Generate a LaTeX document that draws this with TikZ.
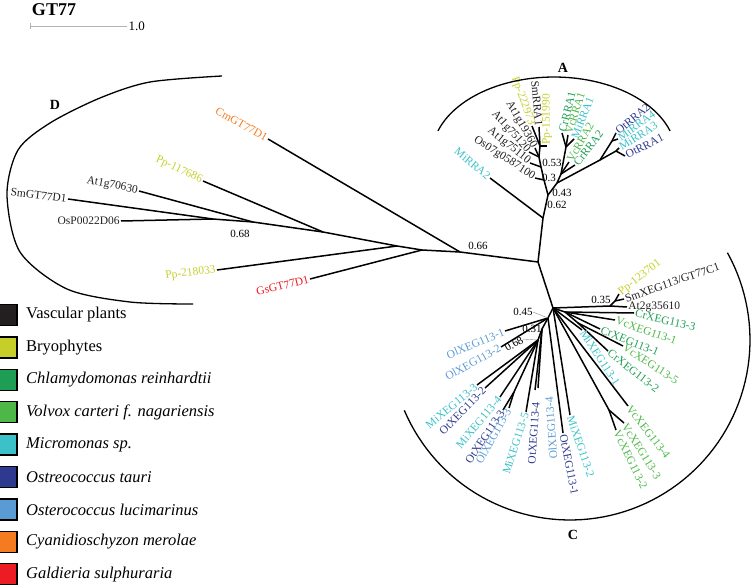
\documentclass[tikz,border=0pt]{standalone}
\usepackage{fontspec}
\setmainfont{Liberation Serif}
\usetikzlibrary{positioning}
\definecolor{cVas}{HTML}{231F20}
\definecolor{cBry}{HTML}{C6CF2A}
\definecolor{cChl}{HTML}{1E9E55}
\definecolor{cVol}{HTML}{4DB848}
\definecolor{cMic}{HTML}{3CC1C8}
\definecolor{cOta}{HTML}{2E3A8F}
\definecolor{cOlu}{HTML}{5B9BD5}
\definecolor{cCya}{HTML}{F47B20}
\definecolor{cGal}{HTML}{ED1C24}
\tikzset{
  br/.style={line width=1.5pt},
  clade/.style={line width=1.3pt},
  lf/.style={font=\fontsize{11.5}{12}\selectfont,inner sep=1.2pt},
  lfl/.style={lf,anchor=east},
  lfr/.style={lf,anchor=west},
  bsv/.style={font=\fontsize{11}{12}\selectfont,inner sep=0pt},
  leader/.style={line width=.4pt,black!45},
  cladelbl/.style={font=\bfseries\fontsize{14}{15}\selectfont},
  lgd/.style={font=\fontsize{16.5}{18}\selectfont,anchor=west,inner sep=0pt},
  swatch/.style={draw=black,line width=1.3pt,minimum width=22pt,minimum height=21pt,inner sep=0pt},
}
\begin{document}
\begin{tikzpicture}[x=1pt,y=-1pt]
  \useasboundingbox (0,0) rectangle (752,588);
  \node[font=\bfseries\fontsize{18}{20}\selectfont] (title) at (54,10) {GT77};
  \coordinate (sbL) at (30,26);
  \coordinate (sbR) at (127,26);
  \draw[black!30,line width=.8pt] (sbL) -- (sbR);
  \draw[black!30,line width=.6pt] ([yshift=3pt]sbL) -- ([yshift=-3pt]sbL);
  \node[right=1.5pt of sbR,font=\fontsize{13}{14}\selectfont,inner sep=0pt] (sbT) {1.0};
  % backbone
  \coordinate (R0) at (538,262);
  \coordinate (J0) at (460,252);
  \coordinate (JA1) at (543,218);
  \coordinate (JC0) at (553,308);
  \draw[br] (J0) -- (R0) -- (JA1);
  \draw[br] (R0) -- (JC0);
  % clade D
  \coordinate (J1) at (422,250);
  \coordinate (J2) at (397,246);
  \coordinate (J3) at (323,232);
  \coordinate (J4) at (253,222);
  \coordinate (J5) at (213,219);
  \coordinate (Cm) at (268,139);
  \coordinate (Pp117) at (203,181);
  \coordinate (At70) at (139,191);
  \coordinate (SmD) at (68,199);
  \coordinate (OsP) at (121,221);
  \coordinate (Pp218) at (217,270);
  \coordinate (Gs) at (310,279);
  \draw[br] (J0) -- (Cm);
  \draw[br] (J0) -- (J1) -- (J2) -- (J3) -- (J4) -- (J5);
  \draw[br] (J1) -- (Gs);
  \draw[br] (J2) -- (Pp218);
  \draw[br] (J3) -- (Pp117);
  \draw[br] (J4) -- (At70);
  \draw[br] (J5) -- (SmD);
  \draw[br] (J5) -- (OsP);
  \node[lfl,cCya,rotate=-29] (tCm) at (Cm) {CmGT77D1};
  \node[lfl,cBry,rotate=-25] (tPp117) at (Pp117) {Pp-117686};
  \node[lfl,cVas,rotate=-11] (tAt70) at (At70) {At1g70630};
  \node[lfl,cVas,rotate=-7] (tSmD) at (SmD) {SmGT77D1};
  \node[lfl,cVas] (tOsP) at (OsP) {OsP0022D06};
  \node[lfl,cBry,rotate=7] (tPp218) at (Pp218) {Pp-218033};
  \node[lfl,cGal,rotate=14] (tGs) at (Gs) {GsGT77D1};
  \node[bsv] (b068D) at (240,234) {0.68};
  \node[bsv] (b066) at (478,246) {0.66};
  % clade A
  \coordinate (JA2) at (548,195);
  \coordinate (JA3) at (544,180);
  \coordinate (JA4) at (541,167);
  \coordinate (JA5) at (539,157);
  \coordinate (JA6) at (540,146);
  \coordinate (MiRRA2) at (490,178);
  \coordinate (Os07) at (535,178);
  \coordinate (At75110) at (530,163);
  \coordinate (At75120) at (529,152);
  \coordinate (At19360) at (535,148);
  \coordinate (SmRRA1) at (539,127);
  \coordinate (Pp222) at (532,126);
  \coordinate (Pp151) at (547,146);
  \draw[br] (JA1) -- (JA2) -- (JA3) -- (JA4) -- (JA5) -- (JA6) -- (SmRRA1);
  \draw[br] (JA1) -- (MiRRA2);
  \draw[br] (JA3) -- (Os07);
  \draw[br] (JA4) -- (At75110);
  \draw[br] (JA5) -- (At75120);
  \draw[br] (JA5) -- (At19360);
  \draw[br] (JA6) -- (Pp222);
  \draw[br] (JA6) -- (Pp151);
  \node[lfl,cMic,rotate=-40] (tMiRRA2) at (MiRRA2) {MiRRA2};
  \node[lfl,cVas,rotate=-33] (tOs07) at (Os07) {Os07g0587100};
  \node[lfl,cVas,rotate=-39] (tAt75110) at (At75110) {At1g75110};
  \node[lfl,cVas,rotate=-48] (tAt75120) at (At75120) {At1g75120};
  \node[lfl,cVas,rotate=-60] (tAt19360) at (At19360) {At1g19360};
  \node[lfl,cVas,rotate=-85] (tSmRRA1) at (SmRRA1) {SmRRA1};
  \node[lfl,cBry,rotate=-70] (tPp222) at (Pp222) {Pp-222973};
  \node[lfr,cBry,rotate=90] (tPp151) at (Pp151) {Pp-151990};
  \coordinate (JB1) at (557,183);
  \coordinate (JB2) at (561,174);
  \coordinate (JB3) at (566,147);
  \coordinate (CrRRA1) at (562,133);
  \coordinate (VcRRA1) at (568,135);
  \coordinate (MiRRA1) at (574,139);
  \coordinate (VcRRA2) at (569,162);
  \coordinate (CrRRA2) at (575,165);
  \coordinate (JO1) at (600,160);
  \coordinate (JO2) at (612,141);
  \coordinate (JO3) at (616,151);
  \coordinate (OtRRA2) at (616,133);
  \coordinate (MiRRA4) at (618,139);
  \coordinate (MiRRA3) at (619,148);
  \coordinate (OtRRA1) at (625,156);
  \draw[br] (JA2) -- (JB1) -- (JB2) -- (JB3);
  \draw[br] (JB3) -- (CrRRA1);
  \draw[br] (JB3) -- (VcRRA1);
  \draw[br] (JB3) -- (MiRRA1);
  \draw[br] (JB2) -- (VcRRA2);
  \draw[br] (JB2) -- (CrRRA2);
  \draw[br] (JB1) -- (JO1) -- (JO2) -- (OtRRA2);
  \draw[br] (JO2) -- (MiRRA4);
  \draw[br] (JO1) -- (JO3) -- (MiRRA3);
  \draw[br] (JO3) -- (OtRRA1);
  \node[lfr,cChl,rotate=76] (tCrRRA1) at (CrRRA1) {CrRRA1};
  \node[lfr,cVol,rotate=72] (tVcRRA1) at (VcRRA1) {VcRRA1};
  \node[lfr,cMic,rotate=68] (tMiRRA1) at (MiRRA1) {MiRRA1};
  \node[lfr,cVol,rotate=60] (tVcRRA2) at (VcRRA2) {VcRRA2};
  \node[lfr,cChl,rotate=52] (tCrRRA2) at (CrRRA2) {CrRRA2};
  \node[lfr,cOta,rotate=40] (tOtRRA2) at (OtRRA2) {OtRRA2};
  \node[lfr,cMic,rotate=36] (tMiRRA4) at (MiRRA4) {MiRRA4};
  \node[lfr,cMic,rotate=32] (tMiRRA3) at (MiRRA3) {MiRRA3};
  \node[lfr,cOta,rotate=27] (tOtRRA1) at (OtRRA1) {OtRRA1};
  \node[bsv] (b053) at (552,163) {0.53};
  \node[bsv] (b03) at (549,178) {0.3};
  \node[bsv] (b043) at (562,193) {0.43};
  \node[bsv] (b062) at (557,205) {0.62};
  % clade C, right side
  \coordinate (JR1) at (610,306);
  \coordinate (JR2) at (615,301);
  \coordinate (At2g) at (627,307);
  \coordinate (Pp123) at (619,294);
  \coordinate (SmXEG) at (624,299);
  \draw[br] (JC0) -- (JR1) -- (At2g);
  \draw[br] (JR1) -- (JR2) -- (Pp123);
  \draw[br] (JR2) -- (SmXEG);
  \node[lfr,cBry,rotate=38] (tPp123) at (Pp123) {Pp-123701};
  \node[lfr,cVas,rotate=19] (tSmXEG) at (SmXEG) {SmXEG113/GT77C1};
  \node[lfr,cVas] (tAt2g) at (At2g) {At2g35610};
  \node[bsv] (b035) at (601,300) {0.35};
  \coordinate (JR3) at (565,312);
  \coordinate (JR4) at (578,323);
  \coordinate (CrX3) at (634,313);
  \coordinate (VcX1) at (615,320);
  \coordinate (CrX1) at (600,329);
  \coordinate (VcX5) at (623,346);
  \coordinate (CrX2) at (608,351);
  \coordinate (MiX1) at (582,330);
  \coordinate (JV) at (609,410);
  \coordinate (VcX4) at (628,406);
  \coordinate (VcX3) at (624,423);
  \coordinate (VcX2) at (616,430);
  \coordinate (MiX2) at (570,415);
  \draw[br] (JC0) -- (JR3) -- (CrX3);
  \draw[br] (JR3) -- (VcX1);
  \draw[br] (JR3) -- (CrX1);
  \draw[br] (JR3) -- (JR4) -- (VcX5);
  \draw[br] (JR4) -- (CrX2);
  \draw[br] (JC0) -- (MiX1);
  \draw[br] (JC0) -- (VcX4);
  \draw[br] (JC0) -- (JV) -- (VcX3);
  \draw[br] (JV) -- (VcX2);
  \draw[br] (JC0) -- (MiX2);
  \node[lfr,cChl,rotate=-13] (tCrX3) at (CrX3) {CrXEG113-3};
  \node[lfr,cVol,rotate=-19] (tVcX1) at (VcX1) {VcXEG113-1};
  \node[lfr,cChl,rotate=-22] (tCrX1) at (CrX1) {CrXEG113-1};
  \node[lfr,cVol,rotate=-33] (tVcX5) at (VcX5) {VcXEG113-5};
  \node[lfr,cChl,rotate=-38] (tCrX2) at (CrX2) {CrXEG113-2};
  \node[lfr,cMic,rotate=-57] (tMiX1) at (MiX1) {MiXEG113-1};
  \node[lfr,cVol,rotate=-52] (tVcX4) at (VcX4) {VcXEG113-4};
  \node[lfr,cVol,rotate=-58] (tVcX3) at (VcX3) {VcXEG113-3};
  \node[lfr,cVol,rotate=-64] (tVcX2) at (VcX2) {VcXEG113-2};
  \node[lfr,cMic,rotate=-71] (tMiX2) at (MiX2) {MiXEG113-2};
  % clade C, left side
  \coordinate (JL1) at (548,318);
  \coordinate (JL2) at (542,329);
  \coordinate (JL3) at (538,340);
  \coordinate (JL5) at (514,392);
  \coordinate (OtX1) at (563,433);
  \coordinate (OlX1) at (505,331);
  \coordinate (OlX2) at (501,347);
  \coordinate (MiX3) at (477,385);
  \coordinate (OtX2) at (485,388);
  \coordinate (MiX4) at (500,397);
  \coordinate (OtX3) at (503,410);
  \coordinate (OlX3) at (509,408);
  \coordinate (MiX5) at (526,412);
  \coordinate (OtX4) at (535,390);
  \coordinate (OlX4) at (538,388);
  \draw[br] (JC0) -- (JL1) -- (JL2) -- (JL3);
  \draw[br] (JL1) -- (OtX1);
  \draw[br] (JL1) -- (OlX1);
  \draw[br] (JL1) -- (OlX2);
  \draw[br] (JL3) -- (MiX3);
  \draw[br] (JL3) -- (OtX2);
  \draw[br] (JL3) -- (MiX4);
  \draw[br] (JL3) -- (JL5) -- (OtX3);
  \draw[br] (JL5) -- (OlX3);
  \draw[br] (JL3) -- (MiX5);
  \draw[br] (JL2) -- (OtX4);
  \draw[br] (JL2) -- (OlX4);
  \node[lfr,cOta,rotate=-79] (tOtX1) at (OtX1) {OtXEG113-1};
  \node[lfl,cOlu,rotate=23] (tOlX1) at (OlX1) {OlXEG113-1};
  \node[lfl,cOlu,rotate=29] (tOlX2) at (OlX2) {OlXEG113-2};
  \node[lfl,cMic,rotate=40] (tMiX3) at (MiX3) {MiXEG113-3};
  \node[lfl,cOta,rotate=46] (tOtX2) at (OtX2) {OtXEG113-2};
  \node[lfl,cMic,rotate=50] (tMiX4) at (MiX4) {MiXEG113-4};
  \node[lfl,cOta,rotate=56] (tOtX3) at (OtX3) {OtXEG113-3};
  \node[lfl,cOlu,rotate=61] (tOlX3) at (OlX3) {OlXEG113-3};
  \node[lfl,cMic,rotate=72] (tMiX5) at (MiX5) {MiXEG113-5};
  \node[lfl,cOta,rotate=86] (tOtX4) at (536,401) {OtXEG113-4};
  \node[lfl,cOlu,rotate=94] (tOlX4) at (549,396) {OlXEG113-4};
  \node[bsv] (b045) at (523,312) {0.45};
  \node[bsv] (b031) at (532,329) {0.31};
  \node[bsv,rotate=30] (b068C) at (514,344) {0.68};
  \draw[leader] (b045.east) -- (JL1);
  \draw[leader] (b068C.east) -- (JL3);
  % clade brackets
  \draw[clade] plot[smooth] coordinates {(222,76) (150,82) (100,98) (50,123) (18,150) (7,195) (20,252) (67,289) (130,302) (193,304)};
  \draw[clade] plot[domain=198:342,samples=50] ({554+122*cos(\x)},{155+78*sin(\x)});
  \draw[clade] plot[domain=157:-29,samples=80] ({570+180*cos(\x)},{340+180*sin(\x)});
  \node[cladelbl] (labA) at (563,68) {A};
  \node[cladelbl] (labC) at (573,535) {C};
  \node[cladelbl] (labD) at (55,105) {D};
  % legend
  \foreach \i/\col/\txt in {0/cVas/Vascular plants,1/cBry/Bryophytes,2/cChl/\textit{Chlamydomonas reinhardtii},3/cVol/\textit{Volvox carteri f. nagariensis},4/cMic/\textit{Micromonas sp.},5/cOta/\textit{Ostreococcus tauri},6/cOlu/\textit{Osterococcus lucimarinus},7/cCya/\textit{Cyanidioschyzon merolae},8/cGal/\textit{Galdieria sulphuraria}}{
    \node[swatch,fill=\col] (sw\i) at (6,315+32.4*\i) {};
    \node[lgd] (lg\i) at (26,315+32.4*\i) {\txt};
  }
\end{tikzpicture}
\end{document}
